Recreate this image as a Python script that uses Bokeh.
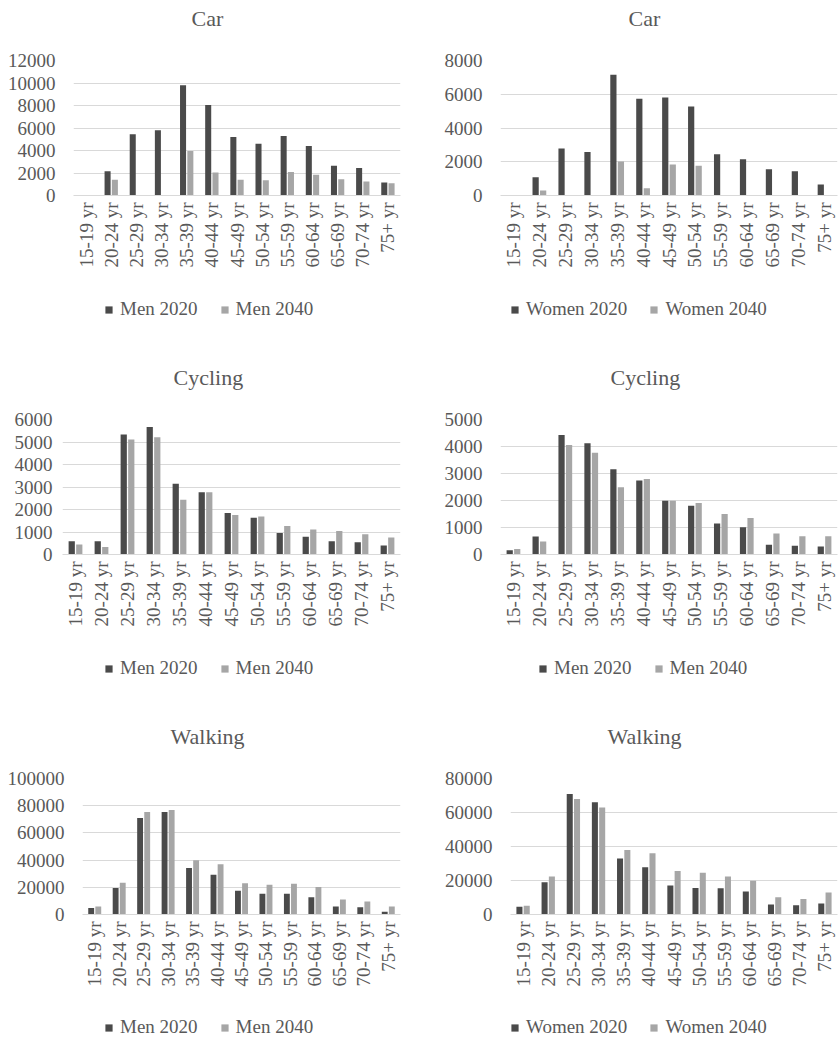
import math
from bokeh.plotting import figure
from bokeh.models import FactorRange, Range1d, FixedTicker, Legend, LegendItem
from bokeh.transform import dodge
from bokeh.layouts import column, row
from bokeh.embed import file_html
from bokeh.resources import INLINE

ages = ["15-19 yr", "20-24 yr", "25-29 yr", "30-34 yr", "35-39 yr", "40-44 yr",
        "45-49 yr", "50-54 yr", "55-59 yr", "60-64 yr", "65-69 yr", "70-74 yr", "75+ yr"]

car_men_2020 = [0, 2150, 5450, 5800, 9800, 8050, 5200, 4600, 5300, 4400, 2650, 2450, 1150]
car_men_2040 = [0, 1400, 0, 0, 3950, 2050, 1400, 1350, 2100, 1850, 1450, 1250, 1100]
car_women_2020 = [0, 1080, 2780, 2580, 7150, 5730, 5810, 5280, 2440, 2150, 1560, 1440, 650]
car_women_2040 = [0, 300, 0, 0, 2010, 430, 1830, 1770, 0, 0, 0, 0, 0]
cyc_men_2020 = [590, 590, 5330, 5670, 3140, 2770, 1840, 1630, 960, 790, 590, 550, 400]
cyc_men_2040 = [440, 330, 5110, 5210, 2430, 2770, 1760, 1690, 1270, 1110, 1040, 900, 760]
cyc_women_2020 = [160, 670, 4430, 4120, 3160, 2740, 1990, 1810, 1150, 1010, 360, 320, 300]
cyc_women_2040 = [200, 480, 4060, 3770, 2490, 2800, 1990, 1910, 1500, 1350, 780, 680, 680]
walk_men_2020 = [4700, 19500, 70900, 75400, 34200, 29300, 17500, 15300, 15300, 12600, 5900, 5400, 2000]
walk_men_2040 = [5900, 23400, 75400, 76800, 39900, 36900, 22900, 21900, 22700, 20200, 11100, 9600, 5900]
walk_women_2020 = [4500, 18900, 70900, 66000, 32900, 27800, 17100, 15600, 15400, 13600, 5900, 5500, 6500]
walk_women_2040 = [5100, 22300, 68000, 62900, 38000, 36100, 25600, 24600, 22300, 19900, 10200, 9100, 13000]

FONT = "Liberation Serif"
TXT = "#595959"
DARK = "#4a4a4a"
LIGHT = "#a6a6a6"
GRID = "#d9d9d9"


def make_chart(title, a, b, ymax, step, width, top, frame_h, bottom, left, right,
               title_offset, title_standoff, ylab_standoff=18, title_valign="bottom"):
    p = figure(x_range=FactorRange(*ages, range_padding=0), y_range=Range1d(0, ymax),
               width=width, height=top + frame_h + bottom,
               min_border_left=left, min_border_right=right,
               min_border_top=top, min_border_bottom=bottom,
               output_backend="svg", toolbar_location=None, tools="")
    p.title.text = title
    p.title.align = "left"
    p.title.offset = title_offset
    p.title.standoff = title_standoff
    p.title.vertical_align = title_valign
    p.title.text_font = FONT
    p.title.text_font_size = "22px"
    p.title.text_font_style = "normal"
    p.title.text_color = TXT
    p.outline_line_color = None
    p.background_fill_color = None
    p.border_fill_color = None
    src = {"age": ages, "a": a, "b": b}
    p.vbar(x=dodge("age", -0.145, range=p.x_range), top="a", width=0.24, source=src,
           fill_color=DARK, line_color=None)
    p.vbar(x=dodge("age", 0.145, range=p.x_range), top="b", width=0.24, source=src,
           fill_color=LIGHT, line_color=None)
    ticks = list(range(0, ymax + 1, step))
    p.yaxis.ticker = FixedTicker(ticks=ticks)
    p.yaxis.axis_line_color = None
    p.yaxis.major_tick_line_color = None
    p.yaxis.minor_tick_line_color = None
    p.yaxis.major_tick_out = 0
    p.yaxis.major_tick_in = 0
    p.yaxis.minor_tick_out = 0
    p.yaxis.major_label_standoff = ylab_standoff
    p.yaxis.major_label_text_font = FONT
    p.yaxis.major_label_text_font_size = "19px"
    p.yaxis.major_label_text_color = TXT
    p.yaxis.formatter.use_scientific = False
    p.xaxis.axis_line_color = GRID
    p.xaxis.major_tick_line_color = None
    p.xaxis.minor_tick_line_color = None
    p.xaxis.major_tick_out = 0
    p.xaxis.major_tick_in = 0
    p.xaxis.minor_tick_out = 0
    p.xaxis.major_label_orientation = math.pi / 2
    p.xaxis.major_label_standoff = 7
    p.xaxis.major_label_text_font = FONT
    p.xaxis.major_label_text_font_size = "19px"
    p.xaxis.major_label_text_color = TXT
    p.xgrid.grid_line_color = None
    p.ygrid.grid_line_color = GRID
    p.ygrid.ticker = FixedTicker(ticks=ticks)
    return p


def make_legend(names, width, height, lx, ly):
    q = figure(width=width, height=height, x_range=Range1d(0, 1), y_range=Range1d(0, 1),
               x_axis_location=None, y_axis_location=None,
               min_border_left=0, min_border_right=0, min_border_top=0, min_border_bottom=0,
               output_backend="svg", toolbar_location=None, tools="")
    q.outline_line_color = None
    q.background_fill_color = None
    q.border_fill_color = None
    q.xgrid.visible = False
    q.ygrid.visible = False
    # zero-height swatch proxies, used only to draw the legend keys
    ra = q.vbar(x=[0.5], top=[0], bottom=[0], width=0.01, fill_color=DARK, line_color=None)
    rb = q.vbar(x=[0.5], top=[0], bottom=[0], width=0.01, fill_color=LIGHT, line_color=None)
    leg = Legend(items=[LegendItem(label=names[0], renderers=[ra]),
                        LegendItem(label=names[1], renderers=[rb])],
                 orientation="horizontal", location=(lx, ly),
                 glyph_width=9, glyph_height=9, label_standoff=7, spacing=22,
                 padding=0, margin=0, border_line_color=None, background_fill_alpha=0,
                 label_text_font=FONT, label_text_font_size="19px", label_text_color=TXT)
    q.add_layout(leg, "center")
    return q


c1 = make_chart("Car\n", car_men_2020, car_men_2040, 12000, 2000, 420, 60, 135, 95, 73, 20,
                118, 6, title_valign="top")
c2 = make_chart("Car\n", car_women_2020, car_women_2040, 8000, 2000, 419, 60, 135, 95, 80, 2,
                128, 6, title_valign="top")
l1 = make_legend(["Men 2020", "Men 2040"], 420, 40, 104, 10)
l2 = make_legend(["Women 2020", "Women 2040"], 419, 40, 90, 10)

c3 = make_chart("Cycling", cyc_men_2020, cyc_men_2040, 6000, 1000, 420, 89, 135, 95, 62, 20,
                111, 60, 10)
c4 = make_chart("Cycling", cyc_women_2020, cyc_women_2040, 5000, 1000, 419, 89, 135, 95, 80, 2,
                110, 60)
l3 = make_legend(["Men 2020", "Men 2040"], 420, 40, 104, 10)
l4 = make_legend(["Men 2020", "Men 2040"], 419, 40, 118, 10)

c5 = make_chart("Walking", walk_men_2020, walk_men_2040, 100000, 20000, 420, 89, 136, 94, 82, 20,
                88, 60)
c6 = make_chart("Walking", walk_women_2020, walk_women_2040, 80000, 20000, 419, 89, 136, 94, 90, 2,
                97, 60)
l5 = make_legend(["Men 2020", "Men 2040"], 420, 32, 104, 2)
l6 = make_legend(["Women 2020", "Women 2040"], 419, 32, 90, 2)

layout = column(row(c1, c2), row(l1, l2), row(c3, c4), row(l3, l4), row(c5, c6), row(l5, l6))
open("out.html", "w").write(file_html(layout, INLINE))
